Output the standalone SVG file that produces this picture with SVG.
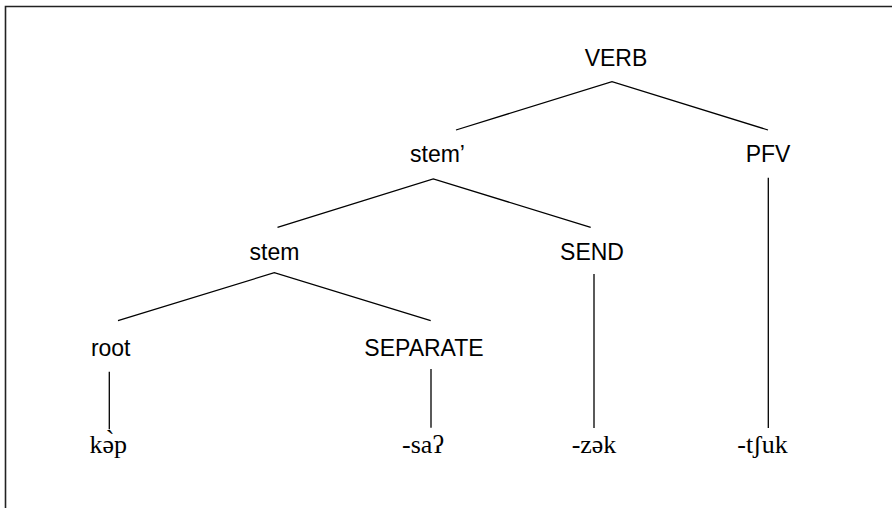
<svg xmlns="http://www.w3.org/2000/svg" width="892" height="508" viewBox="0 0 892 508">
<style>
.s{font-family:"Liberation Sans",Arial,sans-serif;font-size:23px;fill:#000;text-anchor:middle}
.m{font-family:"Liberation Serif","DejaVu Serif",serif;font-size:26px;fill:#000;text-anchor:middle}
.e{stroke:#000;stroke-width:1.3;fill:none}
</style>
<rect width="892" height="508" fill="#fff"/>
<path d="M5.5,508 V6.5 H892" stroke="#222" stroke-width="1.6" fill="none"/>
<g id="connectors" class="e">
<path d="M456,130 L612,81.7 L768,130"/>
<path d="M277.5,227.3 L433.3,179 L590.7,227.3"/>
<path d="M118,320.7 L274.3,272.7 L430.7,320.7"/>
<path d="M109.3,371.7 V429.3"/>
<path d="M431,369 V427.7"/>
<path d="M594,274 V428"/>
<path d="M768.3,177.7 V428"/>
</g>
<g id="n-verb"><text class="s" x="616" y="66">VERB</text></g>
<g id="n-stemp"><text class="s" x="437.5" y="162">stem’</text></g>
<g id="n-pfv"><text class="s" x="768" y="162">PFV</text></g>
<g id="n-stem"><text class="s" x="274.5" y="260">stem</text></g>
<g id="n-send"><text class="s" x="592" y="260">SEND</text></g>
<g id="n-root"><text class="s" x="110.7" y="356">root</text></g>
<g id="n-separate"><text class="s" x="424" y="356">SEPARATE</text></g>
<g id="n-kep"><text class="m" x="108.3" y="453">kə̀p</text></g>
<g id="n-sa"><text class="m" x="423" y="453">-saʔ</text></g>
<g id="n-zek"><text class="m" x="594" y="453">-zək</text></g>
<g id="n-tshuk"><text class="m" x="762.5" y="453">-tʃuk</text></g>
</svg>
